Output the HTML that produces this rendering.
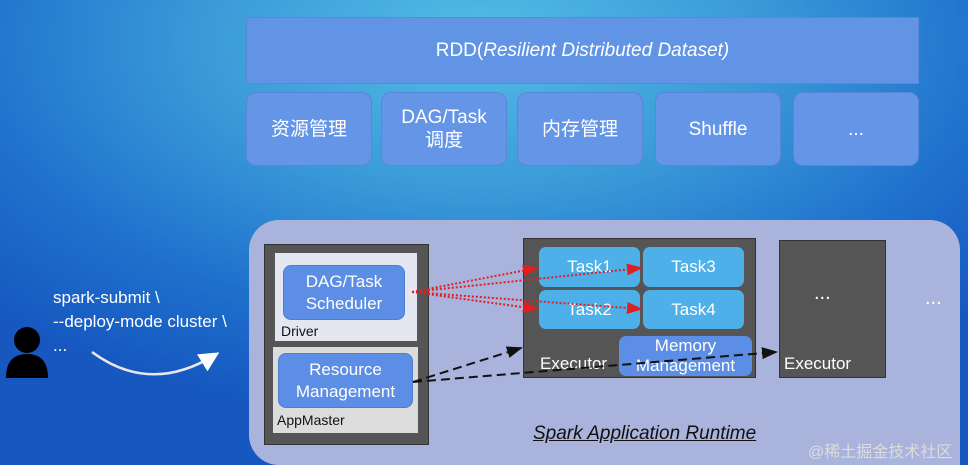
<!DOCTYPE html>
<html style="margin:0;width:968px;height:465px;overflow:hidden"><head><meta charset="utf-8"><style>
body{margin:0;width:968px;height:465px;overflow:hidden;position:relative;font-family:"Liberation Sans","Noto Sans CJK SC",sans-serif;
background:radial-gradient(ellipse 700px 380px at 480px 40px,#52bde6 0%,#3a9ad8 40%,#1e6fcc 75%,#1658c0 100%);}
.a{position:absolute;box-sizing:border-box;}
.c{display:flex;align-items:center;justify-content:center;text-align:center;color:#fff;}
.sb{background:#6495e6;border:1px solid #5a86d8;border-radius:10px;font-size:19px;line-height:23px;}
.t{background:#4db0e8;border-radius:7px;font-size:17px;}
.bb{background:#5b8ee4;border:1px solid #4c7dd0;border-radius:8px;font-size:17px;line-height:22px;}
</style></head><body>
<div class="a c" style="left:246px;top:17px;width:673px;height:67px;background:#6294e6;border:1px solid #5a88d8;font-size:19px">RDD(<i>Resilient Distributed Dataset)</i></div>
<div class="a c sb" style="left:246px;top:92px;width:126px;height:74px">资源管理</div>
<div class="a c sb" style="left:381px;top:92px;width:126px;height:74px">DAG/Task<br>调度</div>
<div class="a c sb" style="left:517px;top:92px;width:126px;height:74px">内存管理</div>
<div class="a c sb" style="left:655px;top:92px;width:126px;height:74px">Shuffle</div>
<div class="a c sb" style="left:793px;top:92px;width:126px;height:74px">...</div>

<div class="a" style="left:249px;top:220px;width:711px;height:245px;background:#aab3dc;border-radius:30px 30px 0 30px"></div>
<div class="a" style="left:264px;top:244px;width:165px;height:201px;background:#555;border:1px solid #333"></div>
<div class="a" style="left:275px;top:253px;width:142px;height:88px;background:#e4e6f2"></div>
<div class="a c bb" style="left:283px;top:265px;width:122px;height:55px">DAG/Task<br>Scheduler</div>
<div class="a" style="left:281px;top:323px;font-size:14px;color:#111">Driver</div>
<div class="a" style="left:273px;top:347px;width:145px;height:86px;background:#dcdcdc"></div>
<div class="a c bb" style="left:278px;top:353px;width:135px;height:55px">Resource<br>Management</div>
<div class="a" style="left:277px;top:412px;font-size:14px;color:#111">AppMaster</div>

<div class="a" style="left:523px;top:238px;width:233px;height:140px;background:#555;border:1px solid #333"></div>
<div class="a c t" style="left:539px;top:247px;width:101px;height:40px">Task1</div>
<div class="a c t" style="left:643px;top:247px;width:101px;height:40px">Task3</div>
<div class="a c t" style="left:539px;top:290px;width:101px;height:39px">Task2</div>
<div class="a c t" style="left:643px;top:290px;width:101px;height:39px">Task4</div>
<div class="a c" style="left:619px;top:336px;width:133px;height:40px;background:#5b8ee4;border-radius:7px;font-size:17px;line-height:20px">Memory<br>Management</div>
<div class="a" style="left:540px;top:354px;font-size:17px;color:#fff">Executor</div>

<div class="a" style="left:779px;top:240px;width:107px;height:138px;background:#555;border:1px solid #333"></div>
<div class="a" style="left:784px;top:354px;font-size:17px;color:#fff">Executor</div>
<div class="a" style="left:814px;top:282px;font-size:20px;color:#fff">...</div>
<div class="a" style="left:925px;top:287px;font-size:20px;color:#fff">...</div>
<div class="a" style="left:533px;top:423px;font-size:19px;font-style:italic;color:#111;text-decoration:underline">Spark Application Runtime</div>
<div class="a" style="left:808px;top:438px;font-size:16px;color:#ddd">@稀土掘金技术社区</div>

<div class="a" style="left:53px;top:286px;font-size:17px;line-height:24px;color:#fff">spark-submit \<br>--deploy-mode cluster \<br>...</div>

<svg class="a" style="left:0;top:0" width="968" height="465">
<defs>
<marker id="r" markerWidth="8" markerHeight="8" refX="7" refY="4" orient="auto"><path d="M0,1 L8,4 L0,7z" fill="#e02020"/></marker>
<marker id="k" markerWidth="8" markerHeight="8" refX="7" refY="4" orient="auto"><path d="M0,1 L8,4 L0,7z" fill="#111"/></marker>
<marker id="w" markerWidth="8" markerHeight="8" refX="6" refY="4" orient="auto"><path d="M0,0 L8,4 L0,8z" fill="#fff"/></marker>
</defs>
<g stroke="#e02020" stroke-width="2" stroke-dasharray="2,2" fill="none">
<line x1="412" y1="292" x2="537" y2="268" marker-end="url(#r)"/>
<line x1="412" y1="292" x2="641" y2="268" marker-end="url(#r)"/>
<line x1="412" y1="292" x2="537" y2="309" marker-end="url(#r)"/>
<line x1="412" y1="292" x2="641" y2="309" marker-end="url(#r)"/>
</g>
<g stroke="#111" stroke-width="2" stroke-dasharray="9,5" fill="none">
<line x1="413" y1="382" x2="521" y2="348" marker-end="url(#k)"/>
<line x1="413" y1="382" x2="776" y2="352" marker-end="url(#k)"/>
</g>
<path d="M92,352 Q150,395 215,355" stroke="#e8e8e8" stroke-width="2.5" fill="none" marker-end="url(#w)"/>
<circle cx="27" cy="340" r="13" fill="#000"/>
<path d="M6,378 Q6,354 27,354 Q48,354 48,378z" fill="#000"/>
</svg>
</body></html>
